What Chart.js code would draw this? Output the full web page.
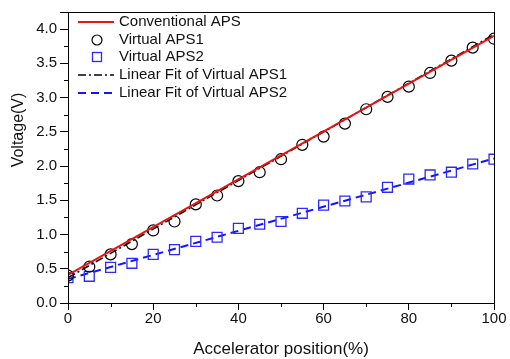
<!DOCTYPE html>
<html>
<head>
<meta charset="utf-8">
<script src="https://cdn.jsdelivr.net/npm/chart.js@4"></script>
<style>
  html, body { margin: 0; padding: 0; background: #fff; }
  #wrap { width: 510px; height: 359px; }
</style>
</head>
<body>
<div id="wrap"><canvas id="voltChart" width="510" height="359"></canvas></div>
<script>
// accelerator position (%)
const positions = [0, 5, 10, 15, 20, 25, 30, 35, 40, 45, 50, 55, 60, 65, 70, 75, 80, 85, 90, 95, 100];
const aps1 = [0.40, 0.53, 0.71, 0.86, 1.06, 1.19, 1.44, 1.57, 1.78, 1.91, 2.10, 2.31, 2.43, 2.62, 2.83, 3.01, 3.16, 3.36, 3.54, 3.73, 3.86];
const aps2 = [0.37, 0.39, 0.52, 0.58, 0.71, 0.78, 0.90, 0.96, 1.09, 1.15, 1.19, 1.31, 1.43, 1.49, 1.55, 1.69, 1.81, 1.87, 1.91, 2.03, 2.10];
// straight lines, end points only
const lineX = [0, 100];
const conventional = [0.41, 3.90];
const fit1 = [0.37, 3.92];
const fit2 = [0.35, 2.11];

const labels = ['Conventional APS', 'Virtual APS1', 'Virtual APS2', 'Linear Fit of Virtual APS1', 'Linear Fit of Virtual APS2'];

const FONT = 'Liberation Sans, Arial, sans-serif';

function pts(xs, ys) {
    return xs.map((x, i) => ({ x: x, y: ys[i] }));
}

// frame, minor ticks, axis titles and legend
const decor = {
    id: 'decor',
    afterDraw(chart) {
        const ctx = chart.ctx;
        const a = chart.chartArea;
        const xs = chart.scales.x;
        const ys = chart.scales.y;
        ctx.save();
        ctx.strokeStyle = '#000';
        ctx.lineWidth = 1;
        ctx.strokeRect(Math.round(a.left) + 0.5, Math.round(a.top) + 0.5, Math.round(a.right - a.left), Math.round(a.bottom - a.top));

        // minor ticks
        ctx.beginPath();
        for (let v = 0.25; v < ys.max; v += 0.5) {
            const py = Math.round(ys.getPixelForValue(v)) + 0.5;
            ctx.moveTo(a.left - 4, py);
            ctx.lineTo(a.left, py);
        }
        for (let v = 10; v < xs.max; v += 20) {
            const px = Math.round(xs.getPixelForValue(v)) + 0.5;
            ctx.moveTo(px, a.bottom);
            ctx.lineTo(px, a.bottom + 4);
        }
        ctx.stroke();

        // axis titles
        ctx.fillStyle = '#111';
        ctx.textAlign = 'center';
        ctx.textBaseline = 'middle';
        ctx.font = '17px ' + FONT;
        ctx.fillText('Accelerator position(%)', (a.left + a.right) / 2, 349);
        ctx.save();
        ctx.translate(19, 130);
        ctx.rotate(-Math.PI / 2);
        ctx.font = '16px ' + FONT;
        ctx.fillText('Voltage(V)', 0, 0);
        ctx.restore();

        // legend
        const rowY = [22, 40, 57, 75, 93];
        const x0 = 78, x1 = 114, xm = 97, tx = 119;
        ctx.font = '15px ' + FONT;
        ctx.textAlign = 'left';
        labels.forEach((lab, i) => {
            const y = rowY[i];
            const ds = chart.data.datasets[i];
            ctx.save();
            if (i === 1) {
                ctx.strokeStyle = ds.pointBorderColor;
                ctx.lineWidth = ds.pointBorderWidth;
                ctx.beginPath();
                ctx.arc(xm, y, 5, 0, Math.PI * 2);
                ctx.stroke();
            } else if (i === 2) {
                ctx.strokeStyle = ds.pointBorderColor;
                ctx.lineWidth = ds.pointBorderWidth;
                ctx.strokeRect(xm - 4.5, y - 4.5, 9, 9);
            } else {
                ctx.strokeStyle = ds.borderColor;
                ctx.lineWidth = ds.borderWidth;
                ctx.setLineDash(ds.borderDash || []);
                ctx.beginPath();
                ctx.moveTo(x0, y);
                ctx.lineTo(x1, y);
                ctx.stroke();
            }
            ctx.restore();
            ctx.fillStyle = '#111';
            ctx.fillText(lab, tx, y);
        });
        ctx.restore();
    }
};

const ctx = document.getElementById('voltChart').getContext('2d');

new Chart(ctx, {
    type: 'scatter',
    data: {
        datasets: [
            {
                label: labels[0],
                data: pts(lineX, conventional),
                showLine: true,
                borderColor: '#ee1111',
                borderWidth: 2,
                pointRadius: 0
            },
            {
                label: labels[1],
                data: pts(positions, aps1),
                pointStyle: 'circle',
                pointRadius: 5.5,
                pointBorderColor: '#000',
                pointBackgroundColor: 'rgba(0,0,0,0)',
                pointBorderWidth: 1.2
            },
            {
                label: labels[2],
                data: pts(positions, aps2),
                pointStyle: 'rect',
                pointRadius: 7,
                pointBorderColor: '#2a2aff',
                pointBackgroundColor: 'rgba(0,0,0,0)',
                pointBorderWidth: 1.3
            },
            {
                label: labels[3],
                data: pts(lineX, fit1),
                showLine: true,
                borderColor: '#000',
                borderWidth: 1.6,
                borderDash: [8, 3, 2, 3],
                pointRadius: 0
            },
            {
                label: labels[4],
                data: pts(lineX, fit2),
                showLine: true,
                borderColor: '#1414ff',
                borderWidth: 2,
                borderDash: [8, 5],
                pointRadius: 0
            }
        ]
    },
    options: {
        responsive: false,
        animation: false,
        layout: { padding: { left: 0, right: 16, top: 8, bottom: 0 } },
        plugins: {
            legend: { display: false },
            tooltip: { enabled: false }
        },
        scales: {
            x: {
                type: 'linear',
                min: 0,
                max: 100,
                afterFit: function (scale) { scale.height = 56; },
                grid: { display: true, drawOnChartArea: false, tickLength: 7, color: '#000' },
                border: { display: true, color: '#000', width: 1 },
                ticks: {
                    stepSize: 20,
                    padding: 0,
                    maxRotation: 0,
                    color: '#111',
                    font: { family: FONT, size: 15 }
                }
            },
            y: {
                type: 'linear',
                min: 0,
                max: 4.25,
                afterFit: function (scale) { scale.width = 68; },
                grid: { display: true, drawOnChartArea: false, tickLength: 8, color: '#000' },
                border: { display: true, color: '#000', width: 1 },
                ticks: {
                    stepSize: 0.5,
                    padding: 3,
                    color: '#111',
                    font: { family: FONT, size: 15 },
                    callback: function (v) {
                        return Math.abs(v * 2 - Math.round(v * 2)) < 1e-6 ? v.toFixed(1) : '';
                    }
                }
            }
        }
    },
    plugins: [decor]
});
</script>
</body>
</html>
